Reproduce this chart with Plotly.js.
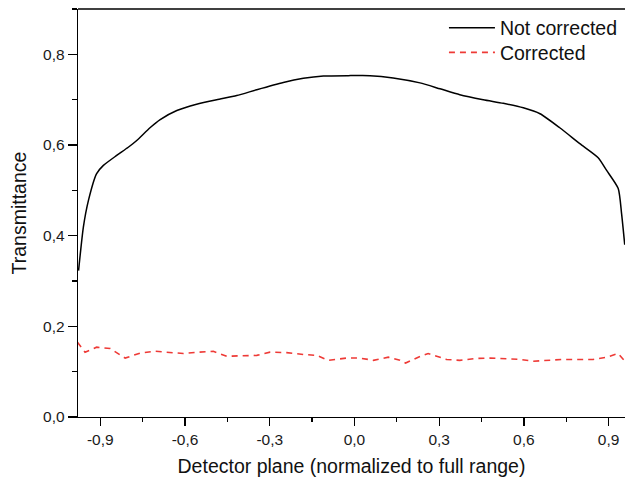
<!DOCTYPE html>
<html>
<head>
<meta charset="utf-8">
<script src="https://cdn.plot.ly/plotly-3.0.1.min.js"></script>
<style>html,body{margin:0;padding:0;background:#fff;}#chart{width:625px;height:484px;}</style>
</head>
<body>
<div id="chart"></div>
<script>
// Not corrected (black solid)
const xNotCorrected = [-0.977, -0.960, -0.942, -0.913, -0.889, -0.842, -0.801, -0.771, -0.724, -0.688,
  -0.629, -0.559, -0.488, -0.417, -0.346, -0.252, -0.181, -0.110, -0.022, 0.055,
  0.137, 0.232, 0.303, 0.373, 0.456, 0.527, 0.598, 0.657, 0.727, 0.798,
  0.863, 0.893, 0.934, 0.946, 0.957];
const yNotCorrected = [0.323, 0.419, 0.478, 0.537, 0.555, 0.577, 0.595, 0.610, 0.638, 0.656,
  0.676, 0.690, 0.700, 0.709, 0.722, 0.738, 0.747, 0.752, 0.753, 0.753,
  0.748, 0.737, 0.724, 0.711, 0.700, 0.692, 0.682, 0.669, 0.638, 0.603,
  0.572, 0.544, 0.504, 0.448, 0.380];

// Corrected (red dashed)
const xCorrected = [-0.981, -0.954, -0.913, -0.865, -0.812, -0.759, -0.706, -0.653, -0.606, -0.553,
  -0.500, -0.452, -0.394, -0.346, -0.299, -0.240, -0.181, -0.134, -0.093, -0.028,
  0.019, 0.067, 0.120, 0.161, 0.181, 0.226, 0.261, 0.326, 0.373, 0.427,
  0.480, 0.533, 0.586, 0.633, 0.686, 0.739, 0.792, 0.845, 0.893, 0.934, 0.955];
const yCorrected = [0.165, 0.143, 0.154, 0.151, 0.130, 0.141, 0.145, 0.143, 0.140, 0.143,
  0.145, 0.134, 0.135, 0.136, 0.143, 0.142, 0.138, 0.136, 0.125, 0.130,
  0.130, 0.125, 0.132, 0.125, 0.119, 0.132, 0.140, 0.127, 0.125, 0.129,
  0.130, 0.129, 0.127, 0.123, 0.125, 0.127, 0.127, 0.127, 0.132, 0.140, 0.125];

const seriesNames = ["Not corrected", "Corrected"];
const xTickVals = [-0.9, -0.6, -0.3, 0.0, 0.3, 0.6, 0.9];
const xTickText = ["-0,9", "-0,6", "-0,3", "0,0", "0,3", "0,6", "0,9"];
const yTickVals = [0.0, 0.2, 0.4, 0.6, 0.8];
const yTickText = ["0,0", "0,2", "0,4", "0,6", "0,8"];

const FONT = "Liberation Sans, Arial, sans-serif";
const legFont = {family: FONT, size: 19.5, color: "#111"};

const traces = [
  {x: xNotCorrected, y: yNotCorrected, name: seriesNames[0], type: "scatter", mode: "lines",
   legend: "legend",
   line: {color: "#000000", width: 1.5, shape: "spline", smoothing: 0.6}},
  {x: xCorrected, y: yCorrected, name: seriesNames[1], type: "scatter", mode: "lines",
   legend: "legend2",
   line: {color: "#ee3a36", width: 1.6, dash: "6px,5px"}}
];

const layout = {
  width: 625, height: 484,
  margin: {l: 78, r: 0, t: 9, b: 67},
  paper_bgcolor: "#ffffff", plot_bgcolor: "#ffffff",
  separators: ",.",
  font: {family: FONT, color: "#1a1a1a", size: 15.5},
  showlegend: true,
  legend: {x: 0.669, xanchor: "left", y: 0.953, yanchor: "middle",
    bgcolor: "rgba(0,0,0,0)", font: legFont, itemwidth: 46},
  legend2: {x: 0.669, xanchor: "left", y: 0.893, yanchor: "middle",
    bgcolor: "rgba(0,0,0,0)", font: legFont, itemwidth: 46},
  xaxis: {
    range: [-0.979, 0.958], tickmode: "array", tickvals: xTickVals, ticktext: xTickText,
    ticks: "outside", ticklen: 8, tickwidth: 1.3, tickcolor: "#000",
    minor: {ticks: "outside", ticklen: 4, tickwidth: 1.3, tickcolor: "#000", dtick: 0.15, tick0: 0, showgrid: false},
    showline: true, linecolor: "#000", linewidth: 1.3, mirror: false,
    showgrid: false, zeroline: false,
    tickfont: {family: FONT, size: 15.5, color: "#1a1a1a"},
    title: {text: "Detector plane (normalized to full range)", font: {family: FONT, size: 19.5, color: "#111"}, standoff: 12}
  },
  yaxis: {
    range: [0, 0.9], tickmode: "array", tickvals: yTickVals, ticktext: yTickText,
    ticks: "outside", ticklen: 9, tickwidth: 1.3, tickcolor: "#000",
    minor: {ticks: "outside", ticklen: 5, tickwidth: 1.3, tickcolor: "#000", dtick: 0.1, tick0: 0, showgrid: false},
    showline: true, linecolor: "#000", linewidth: 1.3, mirror: false,
    showgrid: false, zeroline: false,
    tickfont: {family: FONT, size: 15.5, color: "#1a1a1a"},
    title: {text: "Transmittance", font: {family: FONT, size: 19.5, color: "#111"}, standoff: 11}
  },
  shapes: [
    {type: "line", xref: "paper", yref: "paper", x0: 0, x1: 1, y0: 1, y1: 1,
     line: {color: "#000", width: 1.3}}
  ]
};

Plotly.newPlot("chart", traces, layout, {displayModeBar: false, staticPlot: true});
</script>
</body>
</html>
